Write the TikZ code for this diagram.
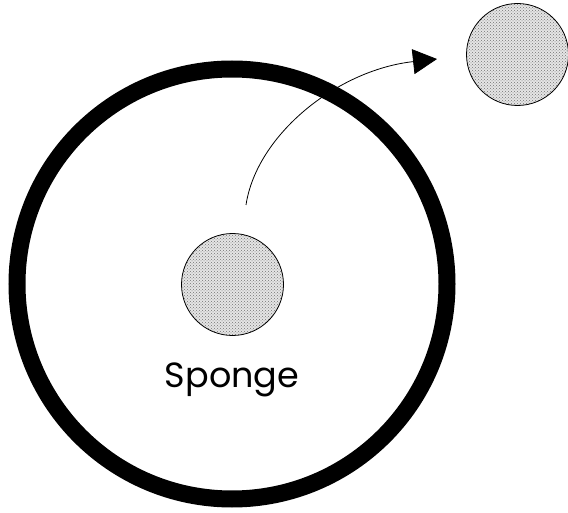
\documentclass[tikz,border=0pt]{standalone}
\usepackage{fontspec}
\setmainfont{Poppins}
\usetikzlibrary{arrows.meta,patterns}
\tikzset{
  ring/.style={draw=black, line width=17pt},
  sponge/.style={circle, draw=black, line width=0.8pt, minimum size=102pt, inner sep=0pt,
    preaction={fill=gray!20}, pattern=crosshatch dots, pattern color=black!55},
  label/.style={font=\fontsize{35}{40}\selectfont, anchor=base, inner sep=0pt},
  move/.style={line width=0.8pt, -{Triangle[length=24pt,width=25pt]}}
}
\begin{document}
\begin{tikzpicture}[x=1pt,y=-1pt]
\useasboundingbox (0,0) rectangle (568,513);
\node[ring, circle, minimum size=430pt, inner sep=0pt] (cell) at (232,284) {};
\node[sponge] (inner) at (232.5,284.5) {};
\node[sponge] (outer) at (517.5,54.5) {};
\node[label] (name) at (232,387) {Sponge};
\coordinate (start) at (246,205);
\coordinate (tip) at (437,59);
\draw[move] (start) .. controls (256.5,135) and (337,70) .. (tip);
\end{tikzpicture}
\end{document}
